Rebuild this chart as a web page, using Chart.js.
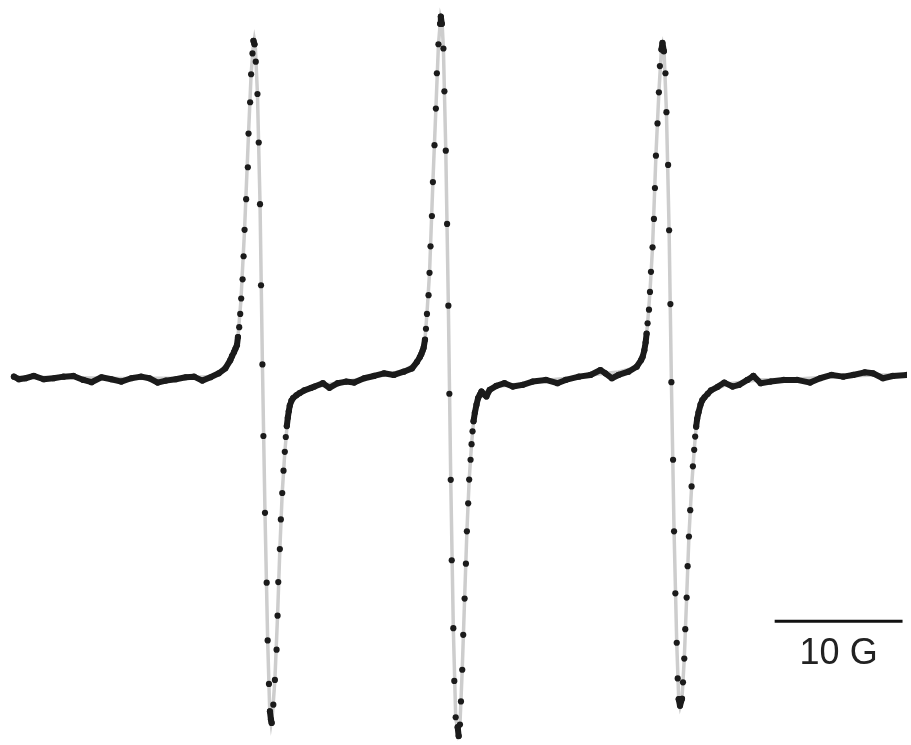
<!DOCTYPE html>
<html>
<head>
<meta charset="utf-8">
<script src="https://cdn.jsdelivr.net/npm/chart.js@4"></script>
<style>
  html, body { margin: 0; padding: 0; background: #fff; }
  canvas { display: block; }
</style>
</head>
<body>
<canvas id="epr" width="911" height="745"></canvas>
<script>
// sweep position (spectrometer points, 12.8 pts = 1 G) and derivative signal (a.u.)
const expField = [10, 15, 21.7, 30, 40, 50, 60, 70, 80, 88.3, 98.3, 108.3, 118.3, 128.3, 138.3, 146.7, 155, 163.3, 173.3, 183.3, 191.7, 200, 208.3, 216.7, 223.3, 228.3,
  230, 232, 233.5, 235, 236, 237.3, 238.3, 239.3, 240.7, 241.7, 242.7, 244.3, 246, 246.7, 248.3, 249.3, 250.7, 251.7, 252.7,
  254, 255.7, 257, 258.3, 259.3, 260.7, 261.7, 263.3, 265, 266, 267.3, 268.3, 269.3, 270,
  271.7, 273.3, 275, 276, 276.7, 278.3, 279.3, 280.7, 282, 283.3, 284.3, 285.3, 286.3, 287.3, 288.3, 290, 291.7, 295, 298.3, 303,
  310, 313.3, 321.7, 328.3, 336.7, 345, 353.3, 363.3, 373.3, 383.3, 393.3, 403.3, 411.7, 416.7,
  419.5, 421, 422.3, 423.3, 424.7, 425.7, 426.7, 428.3, 429.3, 430.3, 431.7, 432.7, 434.3, 435.7, 436.7, 438.3, 440, 440.7, 441.7,
  443.3, 444.3, 445.7, 447, 448.3, 449.3, 450.7, 451.7, 453.3, 454.3, 455.7, 457.7, 458.7,
  460, 461, 462.3, 463.3, 464.7, 466, 467, 468.3, 469.3, 470.7, 471.7, 472.7, 473.7, 475, 476.7, 478.3, 480, 481.7, 484, 486.7,
  490, 496.7, 505, 513.3, 523.3, 533.3, 546.7, 558.3, 566.7, 580, 591.7, 601.7, 606.7, 613.3, 620, 630, 638.3, 642.7,
  644.3, 646, 647.3, 648.3, 649.3, 650.7, 651.7, 652.7, 654.3, 655.7, 656.7, 657.7, 659.3, 660.7, 661.7, 663.3, 664.3,
  665.7, 667.3, 668.3, 670, 671, 672.3, 673.3, 675, 676, 677.3, 678.7, 679.7, 680.7, 682,
  684, 685, 686.3, 687.3, 688.7, 689.7, 691, 692.3, 693.7, 695, 696.3, 697.3, 698.3, 699.3, 700.7, 702.7, 704.5, 706.7, 710,
  713.3, 720, 726.7, 735, 741.7, 750, 756, 763.3, 773.3, 786.7, 800, 813.3, 823.3, 835, 846.7, 856.7, 868.3, 876.7, 886.7, 896.7, 911];
const expSignal = [1.3, -1.3, -0.3, 2, -1.3, -0.3, 1.3, 2, -2, -4.3, 0.7, -1.3, -3.7, -0.3, 1.3, -0.3, -4.7, -2.7, -1.3, 0.7, 1.3, -2.7, 0.7, 4.7, 9.7, 18,
  22, 26, 29.5, 33, 41.3, 51.3, 64.7, 80.3, 99.7, 123, 149.7, 180.7, 213, 247, 278.7, 307, 328, 340.7, 337.3,
  319.7, 287, 238, 175.7, 93.7, 13.7, -58.7, -136.3, -207, -265.3, -309.3, -337, -345.3, -348.7,
  -330.3, -305.3, -274.7, -240.3, -206.3, -173, -143, -116.3, -93.7, -74.7, -59.7, -48.7, -40.3, -33.7, -28, -23, -20.3, -17.5, -15.3, -12.5,
  -10, -8.7, -5.3, -10, -5.3, -3.7, -4.7, -0.3, 2, 4.7, 3, 6.3, 9.7, 16.3,
  21, 24, 27.5, 30.3, 38.7, 49.7, 64.7, 83.7, 106.3, 133, 163.7, 198, 235.3, 272.3, 308, 337.3, 358, 365.3, 358,
  333, 289.7, 229.7, 155.7, 73, -16, -103, -184.3, -253, -306.3, -343, -353, -362,
  -350.3, -327, -295, -259.7, -223, -187.7, -155, -126.7, -102.7, -82.7, -67, -54, -43.7, -35.3, -27, -20.3, -17, -13.7, -16.5, -18.7,
  -12, -8, -5.3, -8.7, -7, -3.7, -2, -5.3, -2, 1.3, 3, 8, 4.7, -0.3, 3, 6.3, 11.3, 18,
  21.3, 28, 35.7, 44.7, 55.3, 69, 87, 107.3, 132, 160.7, 192, 224.7, 257.3, 288.7, 315.3, 332, 338.7,
  330.3, 308, 268.7, 215.3, 149.3, 74.7, -4.3, -82.7, -155, -217.7, -267.7, -303.7, -324.7, -331.3,
  -324.3, -307.7, -283.7, -254, -222, -190.3, -160.3, -133.7, -109.7, -89.3, -72.7, -59.3, -49.3, -41.3, -34.7, -27, -22.5, -19.5, -16,
  -12.5, -9, -4.7, -8.7, -7, -2, 2, -5.3, -3.7, -2, -2, -4.7, -0.3, 3, 1.3, 3, 5.7, 4.7, -0.3, 2, 3];

const simField = [10, 60, 120, 180, 210, 222, 229, 233, 236, 239, 242.7, 246.7, 249.3, 251.5, 252.5, 253.5, 255.7, 258.3, 260.7, 263.3, 266, 268, 269.5,
  271, 273.3, 276, 278.3, 280.7, 283.3, 286.3, 289, 295, 310, 330, 360, 390, 405, 413, 418, 422, 424.7, 426.7, 429.3, 432.7, 435.7, 438.3, 440.5,
  442, 443.3, 445.7, 448.3, 450.7, 453.3, 455.7, 458, 460, 462.3, 464.7, 467, 469.3, 471.7, 473.7, 476.7, 481, 495, 520, 550, 580, 600, 620, 632, 640,
  644, 647.3, 649.3, 651.7, 654.3, 657.7, 660.7, 663, 664.5, 666, 668.3, 671, 673.3, 676, 678.7, 680.7, 682, 684, 686.3, 688.7, 691, 693.7, 696.3,
  698.3, 700.7, 704, 712, 730, 760, 800, 850, 880, 911];
const simSignal = [1, 0.5, -0.5, 0, 1.5, 7, 16, 26, 41, 78, 150, 247, 307, 336, 342, 336, 287, 176, 14, -136, -265, -334, -348,
  -338, -305, -240, -173, -116, -75, -40, -26, -16, -10, -6, -1, 4, 8, 13, 20, 28, 39, 65, 106, 198, 272, 337, 364,
  358, 333, 230, 73, -103, -253, -343, -358, -350, -295, -223, -155, -103, -67, -44, -27, -17, -9, -6, -2, 1, 4, 6, 9, 14,
  21, 36, 55, 87, 132, 225, 289, 328, 336, 328, 269, 149, -4, -155, -268, -325, -332, -324, -284, -222, -160, -110, -73,
  -49, -35, -24, -14, -6, -2, -1, 2, 3, 3];

// 10 G scale bar
const barField = [777.5, 906.5];
const barSignal = [-246, -246];
const barLabel = '10 G';

const toXY = (xs, ys) => xs.map((x, i) => ({ x, y: ys[i] }));

const barText = {
  id: 'barText',
  afterDatasetsDraw(chart) {
    const { ctx, scales: { x, y } } = chart;
    const cx = (x.getPixelForValue(barField[0]) + x.getPixelForValue(barField[1])) / 2;
    const cy = y.getPixelForValue(barSignal[0]) + 33;
    ctx.save();
    ctx.fillStyle = '#222';
    ctx.font = '36px "Liberation Sans", Arial, sans-serif';
    ctx.textAlign = 'center';
    ctx.textBaseline = 'middle';
    ctx.fillText(barLabel, cx, cy);
    ctx.restore();
  }
};

new Chart(document.getElementById('epr'), {
  type: 'scatter',
  data: {
    datasets: [
      {
        label: 'experiment',
        data: toXY(expField, expSignal),
        order: 0,
        showLine: true,
        borderColor: '#1b1b1b',
        borderWidth: 6,
        borderCapStyle: 'round',
        borderJoinStyle: 'round',
        segment: {
          borderColor: (c) => Math.abs(c.p1.y - c.p0.y) > 9 ? 'rgba(0,0,0,0)' : '#1b1b1b'
        },
        pointRadius: 3.1,
        pointBorderWidth: 0,
        pointBackgroundColor: '#1b1b1b'
      },
      {
        label: 'simulation',
        data: toXY(simField, simSignal),
        order: 1,
        showLine: true,
        borderColor: '#cdcdcd',
        borderWidth: 3.5,
        pointRadius: 0
      },
      {
        label: 'scale',
        data: toXY(barField, barSignal),
        order: 2,
        showLine: true,
        borderColor: '#111',
        borderWidth: 3,
        pointRadius: 0
      }
    ]
  },
  options: {
    responsive: false,
    animation: false,
    layout: { padding: 0 },
    plugins: { legend: { display: false }, tooltip: { enabled: false } },
    scales: {
      x: { type: 'linear', min: 0, max: 911, display: false },
      y: { type: 'linear', min: -367, max: 378, display: false }
    }
  },
  plugins: [barText]
});
</script>
</body>
</html>
